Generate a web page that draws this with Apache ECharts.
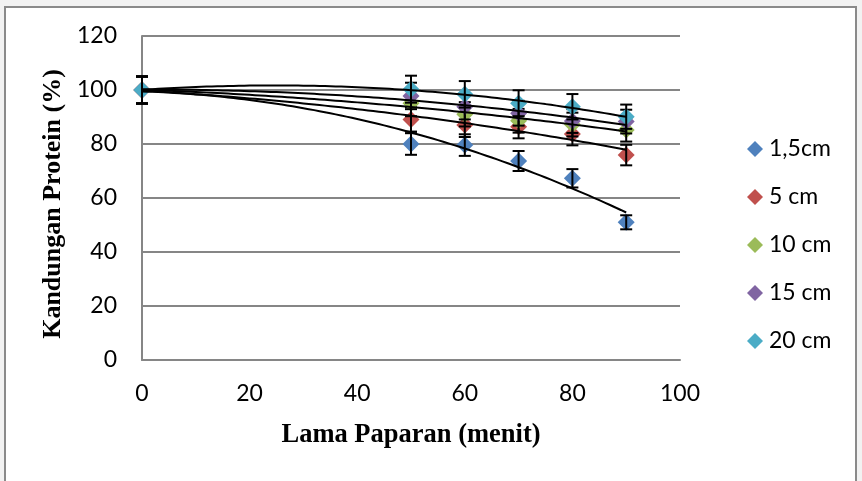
<!DOCTYPE html>
<html><head><meta charset="utf-8">
<script src="https://cdn.jsdelivr.net/npm/echarts@6/dist/echarts.min.js"></script>
<style>html,body{margin:0;padding:0;background:#f2f2f2;}#c{width:862px;height:481px;}</style>
</head><body><div id="c"></div>
<script>
const minutes = [0, 50, 60, 70, 80, 90];
const seriesNames = ['1,5cm', '5 cm', '10 cm', '15 cm', '20 cm'];
const v15 = [100, 80.0, 79.6, 73.7, 67.3, 51.0];
const v5 = [100, 89.1, 87.0, 86.4, 83.7, 75.9];
const v10 = [100, 95.1, 91.0, 88.6, 87.2, 85.2];
const v15cm = [100, 97.8, 93.8, 91.4, 88.5, 88.3];
const v20 = [100, 100.3, 98.4, 95.1, 93.8, 90.1];
const e15 = [5, 4.0, 4.0, 3.7, 3.4, 2.6];
const e5 = [5, 4.5, 4.4, 4.3, 4.2, 3.8];
const e10 = [5, 4.8, 4.5, 4.4, 4.4, 4.3];
const e15cm = [5, 4.9, 4.7, 4.6, 4.4, 4.4];
const e20 = [5, 5.0, 4.9, 4.8, 4.7, 4.5];
const xTicks = [0, 20, 40, 60, 80, 100];
const yTicks = [0, 20, 40, 60, 80, 100, 120];
const colors = ['#4F81BD', '#C0504D', '#9BBB59', '#8064A2', '#4BACC6'];

const vals = [v15, v5, v10, v15cm, v20];
const errs = [e15, e5, e10, e15cm, e20];

function quadFit(xs, ys) {
  let S = [0,0,0,0,0], T = [0,0,0];
  for (let i = 0; i < xs.length; i++) {
    let p = 1;
    for (let k = 0; k < 5; k++) { S[k] += p; if (k < 3) T[k] += p * ys[i]; p *= xs[i]; }
  }
  const A = [[S[0],S[1],S[2],T[0]],[S[1],S[2],S[3],T[1]],[S[2],S[3],S[4],T[2]]];
  for (let i = 0; i < 3; i++) {
    for (let j = i+1; j < 3; j++) {
      const f = A[j][i] / A[i][i];
      for (let k = i; k < 4; k++) A[j][k] -= f * A[i][k];
    }
  }
  const c = [0,0,0];
  for (let i = 2; i >= 0; i--) {
    let s = A[i][3];
    for (let k = i+1; k < 3; k++) s -= A[i][k] * c[k];
    c[i] = s / A[i][i];
  }
  return c;
}

const series = [];
vals.forEach((v, si) => {
  series.push({
    name: seriesNames[si], type: 'scatter', symbol: 'diamond', symbolSize: 17,
    itemStyle: { color: colors[si], opacity: 1 }, z: 3 + si * 2,
    data: minutes.map((m, i) => [m, v[i]])
  });
  series.push({
    type: 'custom', silent: true, z: 4 + si * 2,
    data: minutes.map((m, i) => [m, v[i] - errs[si][i], v[i] + errs[si][i]]),
    renderItem: function (params, api) {
      const lo = api.coord([api.value(0), api.value(1)]);
      const hi = api.coord([api.value(0), api.value(2)]);
      const w = 6;
      const st = { stroke: '#000', lineWidth: 2 };
      return { type: 'group', children: [
        { type: 'line', shape: { x1: lo[0], y1: lo[1], x2: hi[0], y2: hi[1] }, style: st },
        { type: 'line', shape: { x1: lo[0]-w, y1: lo[1], x2: lo[0]+w, y2: lo[1] }, style: st },
        { type: 'line', shape: { x1: hi[0]-w, y1: hi[1], x2: hi[0]+w, y2: hi[1] }, style: st }
      ]};
    }
  });
});
vals.forEach((v, si) => {
  const c = quadFit(minutes, v);
  const pts = [];
  for (let x = 0; x <= 90; x += 1) pts.push([x, c[0] + c[1]*x + c[2]*x*x]);
  series.push({
    type: 'line', silent: true, showSymbol: false, symbol: 'none', smooth: false, z: 20,
    lineStyle: { color: '#000', width: 2 }, data: pts
  });
});

const chart = echarts.init(document.getElementById('c'), null, { renderer: 'canvas' });
chart.setOption({
  backgroundColor: '#f2f2f2',
  animation: false,
  graphic: [{ type: 'rect', z: -10, shape: { x: 5, y: 7, width: 851, height: 490 },
    style: { fill: '#ffffff', stroke: '#8a8a8a', lineWidth: 2 } }],
  grid: { left: 142, top: 36, width: 538, height: 324 },
  legend: {
    orient: 'vertical', left: 742, top: 132, itemWidth: 16, itemHeight: 16, itemGap: 24,
    icon: 'diamond', data: seriesNames,
    textStyle: { fontFamily: 'Lato', fontSize: 23, color: '#000', lineHeight: 24, padding: [0,0,0,1] }
  },
  xAxis: {
    type: 'value', min: 0, max: 100, interval: 20,
    name: 'Lama Paparan (menit)', nameLocation: 'middle', nameGap: 62,
    nameTextStyle: { fontFamily: 'Liberation Serif', fontWeight: 'bold', fontSize: 26.5, color: '#000' },
    axisLine: { show: true, lineStyle: { color: '#868686', width: 2 } },
    axisTick: { show: false }, splitLine: { show: false },
    axisLabel: { fontFamily: 'Lato', fontSize: 23, color: '#000', margin: 22,
      formatter: v => xTicks.includes(v) ? String(v) : '' }
  },
  yAxis: {
    type: 'value', min: 0, max: 120, interval: 20,
    name: 'Kandungan Protein (%)', nameLocation: 'middle', nameGap: 76, nameRotate: 90,
    nameTextStyle: { fontFamily: 'Liberation Serif', fontWeight: 'bold', fontSize: 26, color: '#000',
      padding: [0, 12, 0, 0] },
    axisLine: { show: true, lineStyle: { color: '#868686', width: 2 } },
    axisTick: { show: false },
    splitLine: { show: true, lineStyle: { color: '#868686', width: 2 } },
    axisLabel: { fontFamily: 'Lato', fontSize: 23, color: '#000', margin: 25,
      formatter: v => yTicks.includes(v) ? String(v) : '' }
  },
  series: series
});
</script></body></html>
